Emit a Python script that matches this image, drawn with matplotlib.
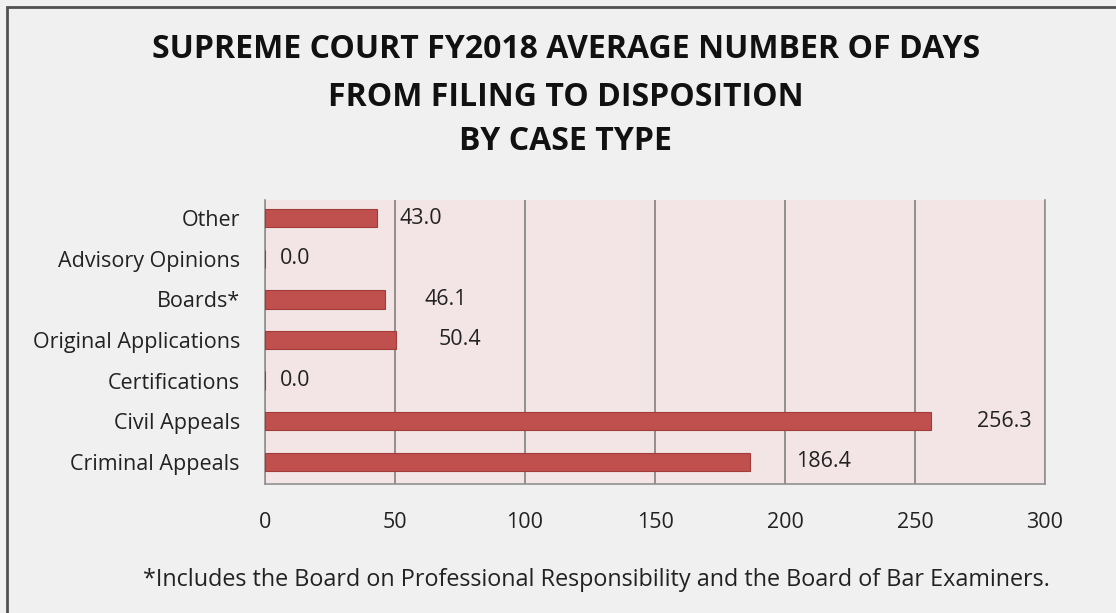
import matplotlib
matplotlib.use("Agg")
import matplotlib.pyplot as plt
from matplotlib.patches import Rectangle

categories = ["Criminal Appeals", "Civil Appeals", "Certifications", "Original Applications",
              "Boards*", "Advisory Opinions", "Other"]
values = [186.4, 256.3, 0.0, 50.4, 46.1, 0.0, 43.0]
label_offsets = [46, 46, 15, 43, 40, 15, 23]  # px after bar end
xticks = [0, 50, 100, 150, 200, 250, 300]

W, H = 1116, 613
fig = plt.figure(figsize=(W / 100, H / 100), dpi=100)
fig.patch.set_facecolor("#f0f0f0")
fig.patches.append(Rectangle((7 / W, -0.1), 1.2, 1 - 7 / H + 0.1, transform=fig.transFigure,
                             fill=False, edgecolor="#505050", linewidth=2))

FS = 15.5
ax = fig.add_axes([265 / W, 1 - 484 / H, (1045 - 265) / W, (484 - 200) / H])
ax.set_facecolor("#f3e5e5")
ypos = range(len(categories))
ax.barh(ypos, values, height=0.45, color="#c0504d", edgecolor="#a23c3a", linewidth=0.8, zorder=3)
ax.set_xlim(0, 300)
ax.set_ylim(-0.55, len(categories) - 0.55)
ax.set_xticks(xticks)
ax.set_xticklabels([str(t) for t in xticks], fontsize=FS, family="Open Sans", color="#222222")
ax.set_yticks(list(ypos))
ax.set_yticklabels(categories, fontsize=FS, family="Open Sans", color="#222222")
ax.tick_params(length=0)
ax.tick_params(axis="x", pad=20)
ax.tick_params(axis="y", pad=18)
ax.xaxis.grid(True, color="#808080", linewidth=1.2, zorder=1)
for s in ax.spines.values():
    s.set_color("#909090")
    s.set_linewidth(1.2)
ax.spines["top"].set_visible(False)
for y, v, off in zip(ypos, values, label_offsets):
    ax.annotate(f"{v:.1f}", xy=(v, y), xytext=(off * 0.72, 0), textcoords="offset points",
                va="center", ha="left", fontsize=FS, family="Open Sans", color="#222222")

title_lines = ["SUPREME COURT FY2018 AVERAGE NUMBER OF DAYS", "FROM FILING TO DISPOSITION", "BY CASE TYPE"]
for line, yy in zip(title_lines, [50, 97, 142]):
    fig.text(0.507, 1 - yy / H, line, ha="center", va="center",
             fontsize=23, fontweight="bold", family="Open Sans", color="#111111")
fig.text(143 / W, 1 - 580 / H,
         "*Includes the Board on Professional Responsibility and the Board of Bar Examiners.",
         ha="left", va="center", fontsize=16.8, family="Open Sans", color="#222222")

fig.savefig("out.png", dpi=100, facecolor=fig.get_facecolor())
